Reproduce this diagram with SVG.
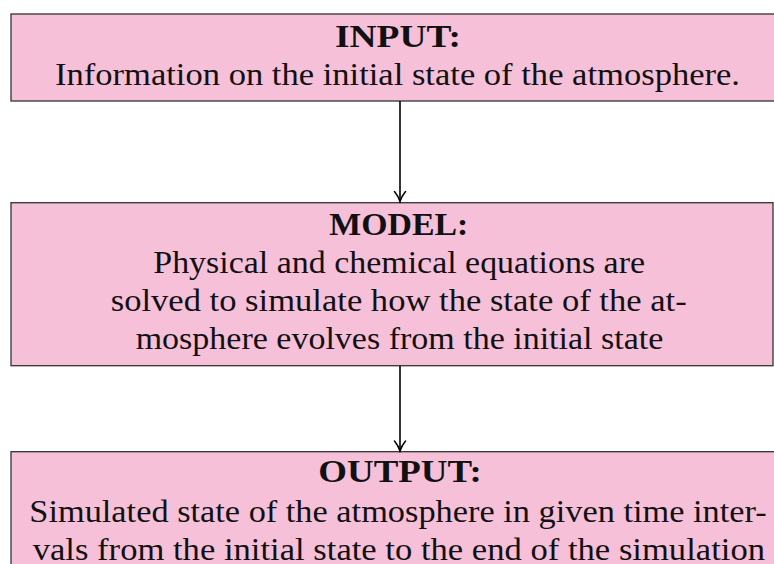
<svg xmlns="http://www.w3.org/2000/svg" width="774" height="564" viewBox="0 0 774 564">
<style>
.box{fill:#f6c0d9;stroke:#333;stroke-width:1.3}
.t{font-family:"Liberation Serif","Times New Roman",serif;font-size:31px;fill:#111}
.b{font-weight:bold}
.conn{stroke:#000;stroke-width:1.6;fill:none}
</style>
<defs>
<marker id="ah" markerWidth="14" markerHeight="14" refX="11" refY="7" orient="auto" markerUnits="userSpaceOnUse">
<path d="M1,1.5 Q6,5.5 11,7 Q6,8.5 1,12.5" fill="none" stroke="#000" stroke-width="1.5" stroke-linecap="round"/>
</marker>
</defs>
<rect width="774" height="564" fill="#fff"/>
<g id="input">
<rect class="box" x="11" y="14" width="765" height="87"/>
<text class="t b" x="335" y="47" textLength="126" lengthAdjust="spacingAndGlyphs">INPUT:</text>
<text class="t" x="55" y="84.7" textLength="685" lengthAdjust="spacingAndGlyphs">Information on the initial state of the atmosphere.</text>
</g>
<g id="model">
<rect class="box" x="11" y="202.7" width="762" height="163"/>
<text class="t b" x="329.3" y="235" textLength="139" lengthAdjust="spacingAndGlyphs">MODEL:</text>
<text class="t" x="153.3" y="272.7" textLength="491.7" lengthAdjust="spacingAndGlyphs">Physical and chemical equations are</text>
<text class="t" x="110.7" y="311" textLength="576" lengthAdjust="spacingAndGlyphs">solved to simulate how the state of the at-</text>
<text class="t" x="135.7" y="349" textLength="527.6" lengthAdjust="spacingAndGlyphs">mosphere evolves from the initial state</text>
</g>
<g id="output">
<rect class="box" x="11" y="451.7" width="765" height="120"/>
<text class="t b" x="318.3" y="481.7" textLength="163.4" lengthAdjust="spacingAndGlyphs">OUTPUT:</text>
<text class="t" x="29.3" y="521.7" textLength="737.4" lengthAdjust="spacingAndGlyphs">Simulated state of the atmosphere in given time inter-</text>
<text class="t" x="32.7" y="560" textLength="732.3" lengthAdjust="spacingAndGlyphs">vals from the initial state to the end of the simulation</text>
</g>
<g id="connectors">
<line class="conn" x1="400" y1="101" x2="400" y2="201.5" marker-end="url(#ah)"/>
<line class="conn" x1="400" y1="366" x2="400" y2="451" marker-end="url(#ah)"/>
</g>
</svg>
